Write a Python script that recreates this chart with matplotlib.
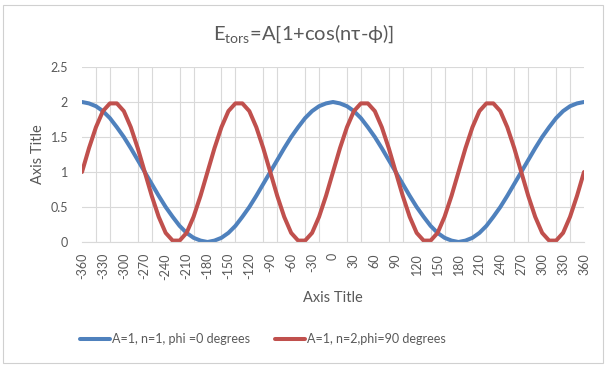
import numpy as np
import matplotlib
matplotlib.use("Agg")
import matplotlib.pyplot as plt
from matplotlib.patches import Rectangle

plt.rcParams['font.family'] = ['Lato', 'DejaVu Sans']
plt.rcParams['mathtext.default'] = 'regular'

# torsion angle, degrees (one point every 10 degrees)
tau = list(range(-360, 361, 10))

# A=1, n=1, phi=0
blue = [2, 1.98, 1.94, 1.87, 1.77, 1.64, 1.5, 1.34, 1.17, 1, 0.83, 0.66, 0.5, 0.36, 0.23, 0.13, 0.06, 0.02, 0,
        0.02, 0.06, 0.13, 0.23, 0.36, 0.5, 0.66, 0.83, 1, 1.17, 1.34, 1.5, 1.64, 1.77, 1.87, 1.94, 1.98, 2,
        1.98, 1.94, 1.87, 1.77, 1.64, 1.5, 1.34, 1.17, 1, 0.83, 0.66, 0.5, 0.36, 0.23, 0.13, 0.06, 0.02, 0,
        0.02, 0.06, 0.13, 0.23, 0.36, 0.5, 0.66, 0.83, 1, 1.17, 1.34, 1.5, 1.64, 1.77, 1.87, 1.94, 1.98, 2]

# A=1, n=2, phi=90
red = [1, 1.34, 1.64, 1.87, 1.98, 1.98, 1.87, 1.64, 1.34, 1, 0.66, 0.36, 0.13, 0.02, 0.02, 0.13, 0.36, 0.66,
       1, 1.34, 1.64, 1.87, 1.98, 1.98, 1.87, 1.64, 1.34, 1, 0.66, 0.36, 0.13, 0.02, 0.02, 0.13, 0.36, 0.66,
       1, 1.34, 1.64, 1.87, 1.98, 1.98, 1.87, 1.64, 1.34, 1, 0.66, 0.36, 0.13, 0.02, 0.02, 0.13, 0.36, 0.66,
       1, 1.34, 1.64, 1.87, 1.98, 1.98, 1.87, 1.64, 1.34, 1, 0.66, 0.36, 0.13, 0.02, 0.02, 0.13, 0.36, 0.66,
       1]

labels = ["A=1, n=1, phi =0 degrees", "A=1, n=2,phi=90 degrees"]
xlabels = list(range(-360, 361, 30))
ylabels = [0, 0.5, 1, 1.5, 2, 2.5]

txt = '#595959'
grid = '#D9D9D9'

fig = plt.figure(figsize=(6.07, 3.67), dpi=100)
fig.patches.append(Rectangle((3 / 607, 4 / 367), 600 / 607, 358 / 367, transform=fig.transFigure,
                             fill=False, edgecolor='#D0D0D0', lw=0.8))

ax = fig.add_axes([82 / 607, 125 / 367, 502 / 607, 175 / 367])
ax.plot(tau, blue, color='#4F81BD', lw=2.9, label=labels[0], solid_capstyle='round')
ax.plot(tau, red, color='#C0504D', lw=2.9, label=labels[1], solid_capstyle='round')

ax.set_xlim(-360, 360)
ax.set_ylim(0, 2.5)
ax.set_xticks(xlabels)
ax.set_xticklabels([str(v) for v in xlabels], rotation=90)
ax.set_xticks(range(-360, 361, 20), minor=True)
ax.set_yticks(ylabels)
ax.set_yticklabels([('%g' % v) for v in ylabels])
ax.tick_params(axis='both', which='both', length=0, colors=txt, labelsize=9)
ax.tick_params(axis='x', pad=8)
ax.tick_params(axis='y', pad=10)
ax.grid(True, axis='y', color=grid, lw=0.8)
ax.grid(True, axis='x', which='minor', color=grid, lw=0.8)
ax.set_axisbelow(True)
for s in ['top', 'left', 'right']:
    ax.spines[s].set_visible(False)
ax.spines['bottom'].set_color(grid)

ax.set_xlabel('Axis Title', color=txt, fontsize=10.5, labelpad=8)
ax.set_ylabel('Axis Title', color=txt, fontsize=10.5, labelpad=4)

fig.text(0.5, 1 - 34 / 367, r'E$_{tors}$=A[1+cos(nτ-ϕ)]', ha='center', va='center',
         fontsize=14.5, color=txt)

fig.legend(loc='center', bbox_to_anchor=(263 / 607, 1 - 339 / 367), ncol=2, frameon=False,
           fontsize=9, labelcolor=txt, handlelength=2.4, handletextpad=0.15, columnspacing=2.0)

fig.savefig('out.png', dpi=100)
